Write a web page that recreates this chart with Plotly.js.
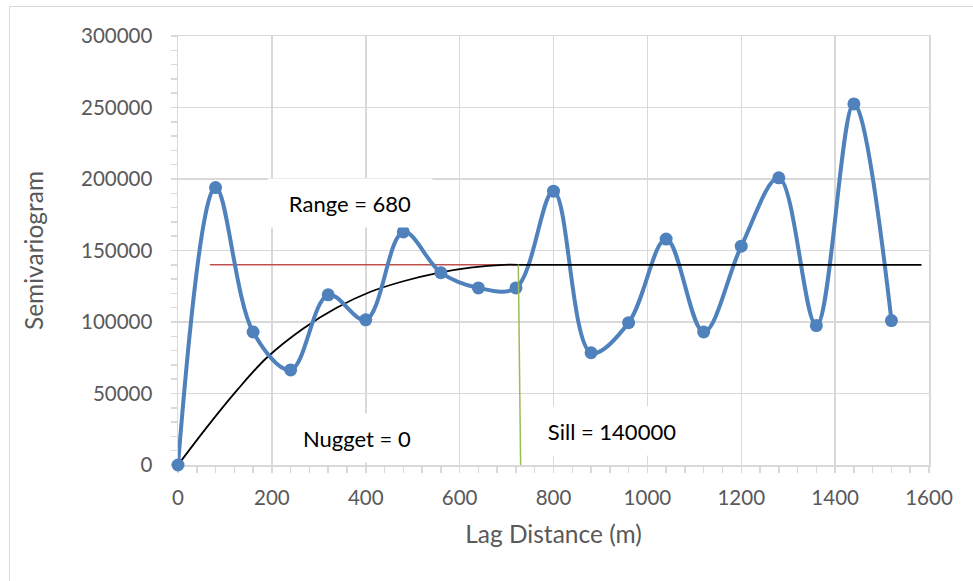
<!DOCTYPE html>
<html>
<head>
<meta charset="utf-8">
<script src="https://cdn.plot.ly/plotly-3.0.1.min.js"></script>
<style>
  html, body { margin: 0; padding: 0; background: #fff; }
  #wrap { position: relative; width: 973px; height: 581px; }
  #chart { position: absolute; left: 0; top: 0; width: 973px; height: 581px; }
  #frame { position: absolute; left: 9px; top: 6px; width: 990px; height: 600px;
           border: 1.5px solid #d9d9d9; pointer-events: none; }
</style>
</head>
<body>
<div id="wrap">
  <div id="chart"></div>
  <div id="frame"></div>
</div>
<script>
// Experimental semivariogram
const lagDistance = [0, 80, 160, 240, 320, 400, 480, 560, 640, 720, 800, 880, 960, 1040, 1120, 1200, 1280, 1360, 1440, 1520];
const semivariogram = [0, 194000, 93000, 66500, 119000, 101500, 163000, 134500, 123800, 123800, 191500, 78500, 99500, 158000, 93000, 153000, 200800, 97500, 252500, 101000];

// Fitted model curve
const modelLag = [0, 60, 125, 189, 267, 338, 409, 480, 552, 623, 694, 725];
const modelGamma = [0, 25800, 52000, 75000, 95500, 110000, 121000, 128500, 134200, 138000, 140000, 140000];

// Sill plateau and helper lines
const sillLag = [725, 1584];
const sillGamma = [140000, 140000];
const redLag = [68, 725];
const redGamma = [140000, 140000];
const rangeLag = [725, 730];
const rangeGamma = [140000, 0];

const labels = ["Range = 680", "Nugget = 0", "Sill = 140000"];
const labelX = [366, 381, 925];
const labelY = [183000, 19000, 23500];

const FONT = "Lato, 'Liberation Sans', sans-serif";

const traces = [
  { x: redLag, y: redGamma, mode: "lines", line: { color: "#c0504d", width: 1.5 }, hoverinfo: "skip" },
  { x: modelLag, y: modelGamma, mode: "lines", line: { color: "#000000", width: 1.8, shape: "spline", smoothing: 1 }, hoverinfo: "skip" },
  { x: lagDistance, y: semivariogram, mode: "lines+markers", cliponaxis: false,
    line: { color: "#4f81bd", width: 4, shape: "spline", smoothing: 1 },
    marker: { color: "#4f81bd", size: 13 } },
  { x: sillLag, y: sillGamma, mode: "lines", line: { color: "#000000", width: 1.8 }, hoverinfo: "skip" },
  { x: rangeLag, y: rangeGamma, mode: "lines", line: { color: "#9bbb59", width: 1.5 }, hoverinfo: "skip" }
];

const annotations = labels.map((t, i) => ({
  text: t, x: labelX[i], y: labelY[i], xref: "x", yref: "y",
  showarrow: false, bgcolor: "#ffffff", width: 162, height: 46,
  font: { family: FONT, size: 22, color: "#000000" }
}));

const layout = {
  width: 973, height: 581,
  margin: { l: 178, r: 44, t: 36, b: 116 },
  paper_bgcolor: "#ffffff", plot_bgcolor: "#ffffff",
  showlegend: false,
  font: { family: FONT, color: "#595959" },
  xaxis: {
    range: [0, 1600], dtick: 200, tick0: 0, layer: "below traces",
    showgrid: true, gridcolor: "#d9d9d9", gridwidth: 1.5,
    showline: true, linecolor: "#d9d9d9", linewidth: 1.5, mirror: true,
    ticks: "outside", ticklen: 6, tickcolor: "#d9d9d9", tickwidth: 1.5,
    minor: { dtick: 40, ticks: "outside", ticklen: 6, tickcolor: "#d9d9d9", tickwidth: 1.5, showgrid: false },
    tickfont: { family: FONT, size: 20.5, color: "#595959" },
    ticklabelstandoff: 8,
    zeroline: false,
    title: { text: "Lag Distance (m)", font: { family: FONT, size: 24.5, color: "#595959" }, standoff: 18 }
  },
  yaxis: {
    range: [0, 300000], dtick: 50000, tick0: 0, layer: "below traces",
    showgrid: true, gridcolor: "#d9d9d9", gridwidth: 1.5,
    showline: true, linecolor: "#d9d9d9", linewidth: 1.5, mirror: true,
    ticks: "outside", ticklen: 6, tickcolor: "#d9d9d9", tickwidth: 1.5,
    minor: { dtick: 10000, ticks: "outside", ticklen: 6, tickcolor: "#d9d9d9", tickwidth: 1.5, showgrid: false },
    tickfont: { family: FONT, size: 20.5, color: "#595959" },
    tickformat: "d",
    ticklabelstandoff: 14,
    zeroline: false,
    title: { text: "Semivariogram", font: { family: FONT, size: 24.5, color: "#595959" }, standoff: 30 }
  },
  annotations: annotations
};

Plotly.newPlot("chart", traces, layout, { staticPlot: true, displayModeBar: false });
</script>
</body>
</html>
